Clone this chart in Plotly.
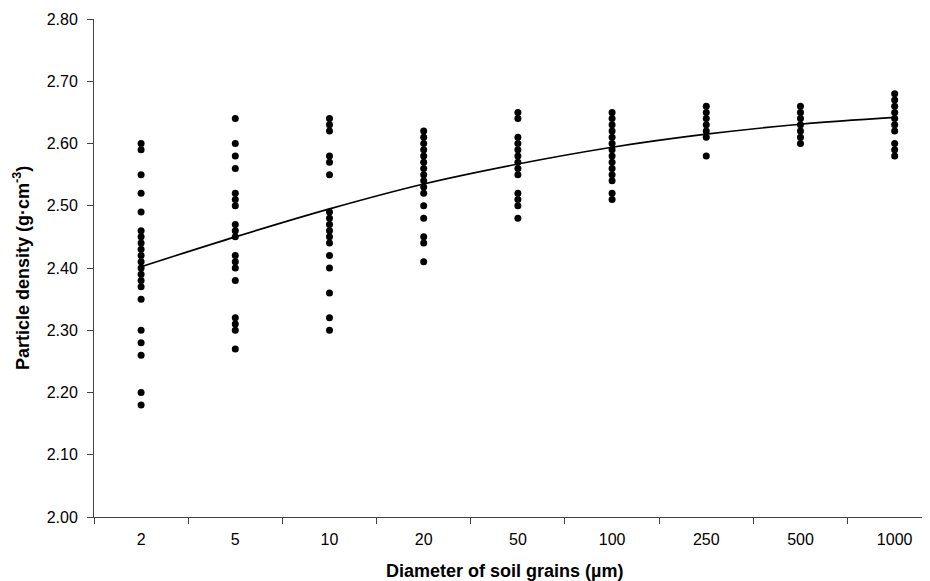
import plotly.graph_objects as go

categories = ["2", "5", "10", "20", "50", "100", "250", "500", "1000"]

d2 = [2.60, 2.59, 2.55, 2.52, 2.49, 2.46, 2.45, 2.44, 2.43, 2.42, 2.41, 2.40,
      2.39, 2.38, 2.37, 2.35, 2.30, 2.28, 2.26, 2.20, 2.18]
d5 = [2.64, 2.60, 2.58, 2.56, 2.52, 2.51, 2.50, 2.47, 2.46, 2.45, 2.42, 2.41,
      2.40, 2.38, 2.32, 2.31, 2.30, 2.27]
d10 = [2.64, 2.63, 2.62, 2.58, 2.57, 2.55, 2.49, 2.48, 2.47, 2.46, 2.45, 2.44,
       2.42, 2.40, 2.36, 2.32, 2.30]
d20 = [2.62, 2.61, 2.60, 2.59, 2.58, 2.57, 2.56, 2.55, 2.54, 2.53, 2.52, 2.50,
       2.48, 2.45, 2.44, 2.41]
d50 = [2.65, 2.64, 2.61, 2.60, 2.59, 2.58, 2.57, 2.56, 2.55, 2.52, 2.51, 2.50,
       2.48]
d100 = [2.65, 2.64, 2.63, 2.62, 2.61, 2.60, 2.59, 2.58, 2.57, 2.56, 2.55, 2.54,
        2.52, 2.51]
d250 = [2.66, 2.65, 2.64, 2.63, 2.62, 2.61, 2.58]
d500 = [2.66, 2.65, 2.64, 2.63, 2.62, 2.61, 2.60]
d1000 = [2.68, 2.67, 2.66, 2.65, 2.64, 2.63, 2.62, 2.60, 2.59, 2.58]

trend = [2.402, 2.450, 2.495, 2.535, 2.567, 2.594, 2.615, 2.631, 2.642]

groups = [d2, d5, d10, d20, d50, d100, d250, d500, d1000]
xs, ys = [], []
for cat, vals in zip(categories, groups):
    for v in vals:
        xs.append(cat)
        ys.append(v)

fig = go.Figure()
fig.add_trace(go.Scatter(x=xs, y=ys, mode="markers",
                         marker=dict(color="black", size=7),
                         showlegend=False, hoverinfo="skip"))
fig.add_trace(go.Scatter(x=categories, y=trend, mode="lines",
                         line=dict(color="black", width=1.6, shape="spline"),
                         showlegend=False, hoverinfo="skip"))

FAM = "Liberation Sans, Arial, sans-serif"
axis_font = dict(family=FAM, size=16, color="black")
fig.update_layout(
    width=930, height=581,
    margin=dict(l=86, r=0, t=11, b=72),
    paper_bgcolor="white", plot_bgcolor="white",
    font=axis_font,
    xaxis=dict(type="category", categoryorder="array", categoryarray=categories,
               range=[-0.5, 8.46], showgrid=False, zeroline=False,
               showline=True, linecolor="#444", linewidth=1,
               ticks="outside", tickson="boundaries", ticklen=6,
               tickcolor="#444", tickfont=axis_font, ticklabelstandoff=8),
    yaxis=dict(range=[2.0, 2.8], dtick=0.1, tick0=2.0, tickformat=".2f",
               showgrid=False, zeroline=False, showline=True,
               linecolor="#444", linewidth=1, ticks="outside", ticklen=6,
               tickcolor="#444", tickfont=axis_font, ticklabelstandoff=6),
    annotations=[
        dict(text="<b>Diameter of soil grains (µm)</b>", xref="paper", yref="paper",
             x=0.486, y=0, yshift=-54, xanchor="center", yanchor="middle",
             showarrow=False, font=dict(family=FAM, size=18, color="black")),
        dict(text="<b>Particle density (g·cm<sup>-3</sup>)</b>", xref="paper", yref="paper",
             x=0, xshift=-73, y=0.5, textangle=-90, xanchor="center", yanchor="middle",
             showarrow=False, font=dict(family=FAM, size=18, color="black")),
    ],
)

fig.write_html("out.html")
